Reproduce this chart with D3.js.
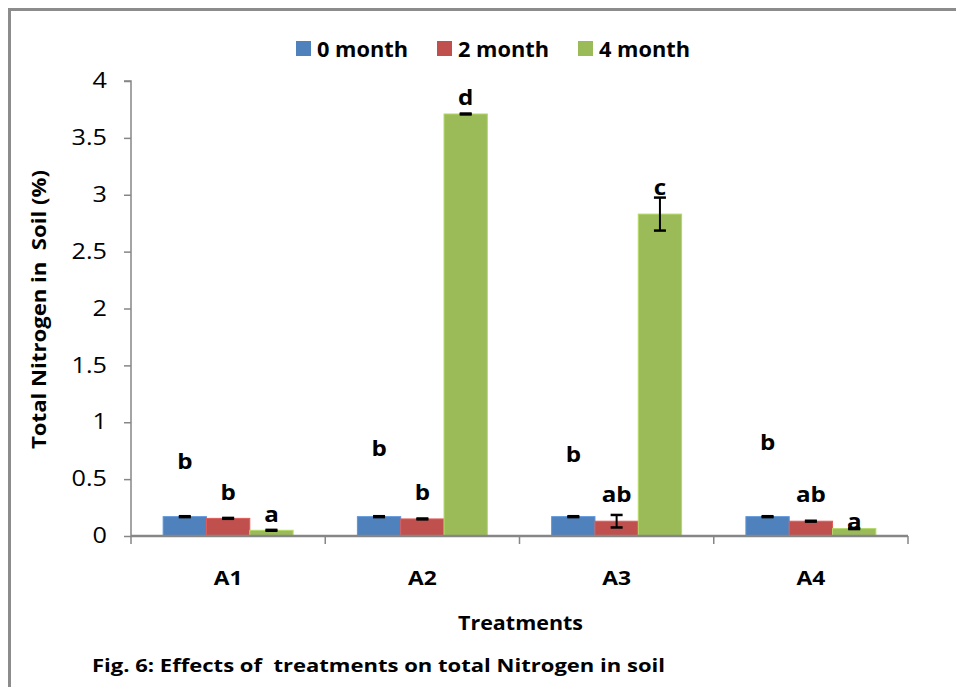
<!DOCTYPE html>
<html>
<head>
<meta charset="utf-8">
<script src="https://cdn.jsdelivr.net/npm/d3@7"></script>
<style>
  html, body { margin: 0; padding: 0; background: #fff; }
  svg { display: block; }
  text { font-family: "Open Sans", Lato, sans-serif; fill: #000; white-space: pre; }
</style>
</head>
<body>
<svg id="chart" width="956" height="687"></svg>
<script>
// ---- data ----
const categories = ["A1", "A2", "A3", "A4"];
const seriesNames = ["0 month", "2 month", "4 month"];
const seriesColors = ["#4F81BD", "#C0504D", "#9BBB59"];
const month0 = [0.17, 0.17, 0.17, 0.17];
const month2 = [0.155, 0.15, 0.13, 0.13];
const month4 = [0.05, 3.71, 2.83, 0.065];
const err0 = [0.004, 0.004, 0.004, 0.004];
const err2 = [0.004, 0.004, 0.055, 0.004];
const err4 = [0.004, 0.004, 0.145, 0.004];
// significance letters and the data height of their baseline
const letters0 = ["b", "b", "b", "b"];
const letters2 = ["b", "b", "ab", "ab"];
const letters4 = ["a", "d", "c", "a"];
const letterY0 = [0.59, 0.70, 0.65, 0.76];
const letterY2 = [0.32, 0.32, 0.30, 0.30];
const letterY4 = [0.12, 3.79, 3.0, 0.06];
const yTicks = [0, 0.5, 1, 1.5, 2, 2.5, 3, 3.5, 4];

const values = [month0, month2, month4];
const errs = [err0, err2, err4];
const letters = [letters0, letters2, letters4];
const letterYs = [letterY0, letterY2, letterY4];

(function () {
const svg = d3.select("#chart");
const boldFont = "'Open Sans', sans-serif";

// frame
svg.append("path")
  .attr("d", "M9.5,687 L9.5,9.5 L956,9.5")
  .attr("fill", "none").attr("stroke", "#8c8c8c").attr("stroke-width", 3);

const pLeft = 131, pRight = 908, pTop = 81, pBottom = 536;
const x0 = d3.scaleBand().domain(categories).range([pLeft, pRight])
  .paddingInner(0.331).paddingOuter(0.1655);
const x1 = d3.scaleBand().domain(seriesNames).range([0, x0.bandwidth()]);
const y = d3.scaleLinear().domain([0, 4]).range([pBottom, pTop]);

const rows = [];
categories.forEach((c, i) => {
  seriesNames.forEach((s, j) => {
    rows.push({ c, s, j, v: values[j][i], e: errs[j][i], l: letters[j][i], ly: letterYs[j][i] });
  });
});

const g = svg.append("g");
g.selectAll("rect.bar").data(rows).join("rect")
  .attr("class", "bar")
  .attr("x", d => x0(d.c) + x1(d.s))
  .attr("y", d => y(d.v))
  .attr("width", x1.bandwidth())
  .attr("height", d => y(0) - y(d.v))
  .attr("fill", d => seriesColors[d.j])
  .attr("stroke", d => d3.color(seriesColors[d.j]).brighter(0.4))
  .attr("stroke-width", 1);

// error bars
const eb = g.selectAll("g.err").data(rows).join("g").attr("class", "err")
  .attr("transform", d => `translate(${x0(d.c) + x1(d.s) + x1.bandwidth() / 2},0)`);
eb.append("line")
  .attr("y1", d => y(d.v + d.e)).attr("y2", d => y(d.v - d.e))
  .attr("stroke", "#000").attr("stroke-width", 2);
eb.append("line")
  .attr("x1", -6).attr("x2", 6)
  .attr("y1", d => y(d.v + d.e)).attr("y2", d => y(d.v + d.e))
  .attr("stroke", "#000").attr("stroke-width", 2.5);
eb.append("line")
  .attr("x1", -6).attr("x2", 6)
  .attr("y1", d => y(d.v - d.e)).attr("y2", d => y(d.v - d.e))
  .attr("stroke", "#000").attr("stroke-width", 2.5);

// letters
g.selectAll("text.sig").data(rows).join("text")
  .attr("class", "sig")
  .attr("transform", d => `translate(${x0(d.c) + x1(d.s) + x1.bandwidth() / 2},${y(d.ly)}) scale(1.1,1)`)
  .attr("text-anchor", "middle")
  .attr("font-family", boldFont)
  .attr("font-weight", "bold")
  .attr("font-size", 22)
  .text(d => d.l);

// axes
const axisColor = "#868686";
const yAxis = svg.append("g").attr("transform", `translate(${pLeft},0)`)
  .call(d3.axisLeft(y).tickValues(yTicks).tickSize(7).tickPadding(16).tickFormat(d3.format("")));
yAxis.selectAll("path, line").attr("stroke", axisColor).attr("stroke-width", 1.5);
yAxis.select("path").attr("d", `M-7,${pTop}H0V${pBottom}`);
yAxis.selectAll("text")
  .attr("x", null)
  .attr("transform", "translate(-24,0) scale(1.2,1)")
  .attr("font-size", 21).attr("font-family", "Lato, sans-serif").attr("fill", "#000");

const xAxis = svg.append("g").attr("transform", `translate(0,${pBottom})`);
xAxis.append("line").attr("x1", pLeft).attr("x2", pRight).attr("y1", 0).attr("y2", 0)
  .attr("stroke", axisColor).attr("stroke-width", 2.5);
const boundaries = categories.map(c => x0(c) - x0.step() * x0.paddingInner() / 2).concat([pRight]);
xAxis.selectAll("line.tick").data(boundaries).join("line").attr("class", "tick")
  .attr("x1", d => d).attr("x2", d => d).attr("y1", 0).attr("y2", 8)
  .attr("stroke", axisColor).attr("stroke-width", 1.5);
xAxis.selectAll("text").data(categories).join("text")
  .attr("transform", d => `translate(${x0(d) + x0.bandwidth() / 2},49) scale(1.2,1)`)
  .attr("text-anchor", "middle")
  .attr("font-family", boldFont)
  .attr("font-weight", "bold").attr("font-size", 19)
  .text(d => d);

// axis titles
svg.append("text")
  .attr("transform", "translate(46,309.5) rotate(-90)")
  .attr("text-anchor", "middle")
  .attr("font-family", boldFont)
  .attr("font-weight", "bold").attr("font-size", 19.5)
  .attr("textLength", 279).attr("lengthAdjust", "spacingAndGlyphs")
  .text("Total Nitrogen in  Soil (%)");
svg.append("text")
  .attr("x", 520.5).attr("y", 630)
  .attr("text-anchor", "middle")
  .attr("font-family", boldFont)
  .attr("font-weight", "bold").attr("font-size", 19.5)
  .attr("textLength", 125).attr("lengthAdjust", "spacingAndGlyphs")
  .text("Treatments");
svg.append("text")
  .attr("x", 92).attr("y", 672)
  .attr("font-family", boldFont)
  .attr("font-weight", "bold").attr("font-size", 18.5)
  .attr("textLength", 573).attr("lengthAdjust", "spacingAndGlyphs")
  .text("Fig. 6: Effects of  treatments on total Nitrogen in soil");

// legend
const legendX = [296, 437, 578];
const lg = svg.append("g").selectAll("g").data(seriesNames).join("g")
  .attr("transform", (d, i) => `translate(${legendX[i]},41)`);
lg.append("rect").attr("width", 15).attr("height", 15)
  .attr("fill", (d, i) => seriesColors[i]);
lg.append("text").attr("x", 21).attr("y", 16)
  .attr("font-family", boldFont)
  .attr("font-weight", "bold").attr("font-size", 20.5)
  .attr("textLength", 91).attr("lengthAdjust", "spacingAndGlyphs")
  .text(d => d);
})();
</script>
</body>
</html>
